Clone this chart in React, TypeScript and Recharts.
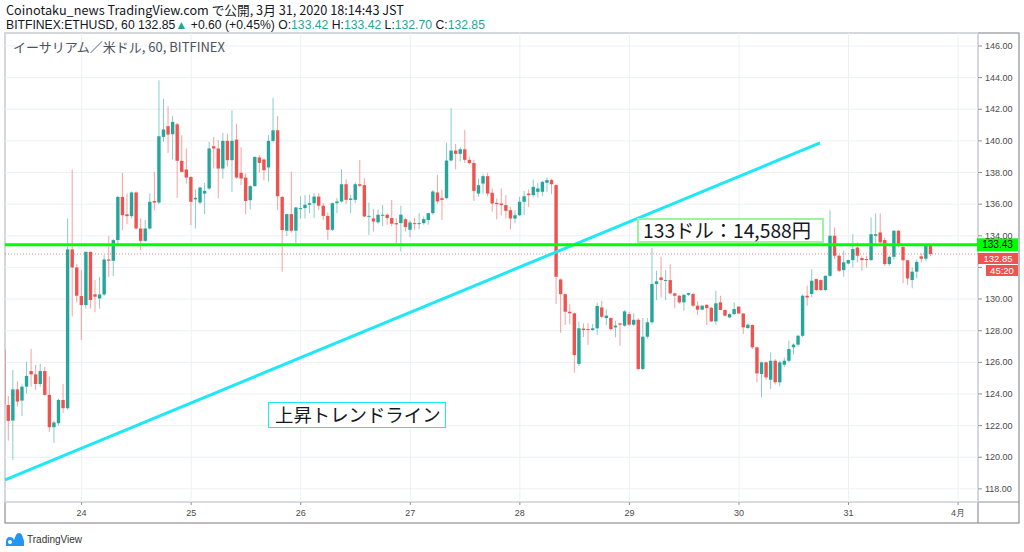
import React from 'react';
import { ComposedChart, Bar, XAxis, YAxis, CartesianGrid, ReferenceLine } from 'recharts';

// Hours are counted from 2020-03-24 00:00 JST; the first hourly candle is Mar 23 07:00.
const FIRST_HOUR = -17;

// Each candle: [open, high, low, close]
const mar23 = [
  [126.8, 127.4, 123.2, 123.3], [123.3, 123.87, 121.05, 122.3], [122.32, 125.52, 119.83, 124.29],
  [124.29, 124.8, 123.2, 123.52], [123.58, 124.6, 122.6, 124.46], [124.46, 126.04, 124.04, 125.14],
  [125.45, 126.84, 124.46, 125.24], [125.24, 125.83, 124.25, 124.63], [124.63, 125.9, 124.46, 125.45],
  [125.45, 125.7, 123.9, 123.94], [123.94, 125.1, 121.6, 121.9], [121.9, 122.3, 120.9, 122.2],
  [122.15, 123.7, 122.0, 123.62], [123.62, 124.63, 122.8, 123.1], [123.1, 135.1, 123.0, 133.14],
  [133.14, 138.19, 128.9, 132.0], [132.0, 132.21, 129.8, 130.21],
];
const mar24 = [
  [130.19, 131.83, 127.41, 129.62], [129.62, 133.0, 129.4, 132.99], [132.99, 133.0, 129.4, 129.94],
  [130.3, 131.2, 129.16, 130.15], [130.04, 131.4, 129.4, 130.29], [130.29, 132.78, 130.2, 132.5],
  [132.5, 133.98, 131.4, 132.42], [132.42, 133.8, 131.45, 133.73], [133.73, 136.5, 133.3, 136.46],
  [136.46, 137.98, 134.36, 135.3], [135.36, 136.67, 134.74, 135.24], [135.24, 136.8, 135.1, 136.74],
  [136.74, 136.8, 134.4, 134.46], [134.46, 135.1, 133.1, 133.68], [133.68, 135.0, 133.6, 134.46],
  [134.46, 136.67, 134.4, 136.15], [136.2, 138.04, 135.6, 136.1], [136.1, 143.83, 136.0, 140.29],
  [140.25, 142.67, 139.94, 140.72], [140.93, 142.19, 139.24, 140.4], [140.42, 141.58, 138.82, 141.2],
  [141.05, 141.14, 136.4, 138.74], [138.74, 140.36, 138.0, 138.04], [138.19, 139.52, 137.3, 137.68],
];
const mar25 = [
  [137.72, 137.75, 134.67, 136.15], [136.3, 136.95, 134.46, 136.4], [136.1, 137.1, 136.0, 137.05],
  [136.67, 137.35, 135.37, 136.84], [136.99, 139.94, 136.9, 139.52], [139.66, 140.25, 138.25, 139.52],
  [139.52, 140.04, 136.36, 138.25], [138.25, 140.5, 137.62, 140.0], [140.0, 140.46, 138.36, 138.78],
  [138.78, 141.94, 136.78, 140.0], [140.08, 141.09, 137.6, 137.68], [137.98, 139.6, 137.2, 137.62],
  [137.68, 137.94, 135.37, 136.2], [136.25, 137.2, 135.66, 137.14], [137.14, 139.0, 137.1, 138.99],
  [138.95, 139.1, 137.98, 138.61], [138.82, 138.9, 137.5, 138.15], [138.32, 140.36, 137.41, 140.0],
  [140.0, 142.72, 139.9, 140.67], [140.67, 141.56, 135.62, 136.5], [136.46, 136.5, 131.73, 134.36],
  [134.32, 135.4, 133.98, 135.37], [135.37, 138.04, 134.2, 134.32], [134.32, 135.83, 133.52, 135.79],
];
const mar26 = [
  [135.7, 136.5, 135.1, 135.75], [135.75, 136.57, 135.1, 135.96], [135.96, 136.6, 135.43, 136.06],
  [136.06, 136.7, 135.12, 136.48], [136.48, 136.7, 135.64, 135.9], [135.9, 136.06, 135.0, 135.26],
  [135.26, 135.47, 133.75, 134.38], [134.38, 136.1, 134.3, 136.06], [136.06, 136.38, 135.43, 136.17],
  [136.17, 138.2, 136.1, 137.26], [137.26, 137.58, 136.02, 136.27], [136.27, 136.6, 135.43, 136.36],
  [136.27, 137.37, 136.06, 137.26], [137.26, 138.8, 137.07, 137.16], [137.2, 137.64, 135.18, 135.22],
  [135.22, 136.1, 134.06, 135.26], [135.1, 135.7, 134.27, 134.9], [134.85, 135.64, 134.76, 135.33],
  [135.28, 135.94, 134.6, 135.33], [135.33, 135.43, 134.7, 135.12], [135.12, 136.27, 134.6, 134.76],
  [134.8, 135.12, 133.54, 134.72], [134.8, 135.9, 133.0, 135.33], [135.05, 135.12, 134.27, 134.55],
];
const mar27 = [
  [134.38, 134.97, 133.92, 134.84], [134.8, 135.12, 134.38, 134.76], [134.76, 135.43, 134.42, 134.8],
  [134.8, 135.22, 134.7, 135.05], [135.0, 135.45, 134.7, 135.43], [135.43, 136.9, 135.33, 136.8],
  [136.74, 137.85, 136.02, 136.17], [136.38, 136.9, 135.0, 136.27], [136.38, 139.9, 136.3, 138.76],
  [138.76, 142.06, 138.7, 139.39], [139.39, 139.81, 138.2, 139.18], [139.18, 139.6, 138.7, 139.47],
  [139.47, 140.7, 138.6, 138.8], [138.8, 139.0, 138.5, 138.6], [138.6, 138.8, 136.2, 136.84],
  [136.67, 137.62, 136.46, 137.2], [137.3, 137.9, 136.67, 137.77], [137.77, 137.98, 136.5, 136.67],
  [136.72, 136.99, 135.52, 136.04], [136.08, 136.36, 135.03, 136.0], [136.04, 136.99, 135.3, 135.94],
  [135.94, 136.57, 135.1, 135.58], [135.62, 135.83, 134.4, 135.09], [135.09, 135.62, 134.78, 135.3],
];
const mar28 = [
  [135.3, 136.46, 135.24, 136.15], [136.15, 136.84, 135.3, 136.5], [136.67, 136.93, 135.83, 136.57],
  [136.57, 137.56, 136.42, 137.09], [136.78, 137.35, 136.42, 136.99], [136.78, 137.47, 136.5, 137.41],
  [137.35, 137.68, 136.78, 137.52], [137.52, 137.62, 136.63, 137.26], [137.2, 137.3, 129.68, 131.41],
  [131.24, 131.3, 127.87, 130.31], [130.31, 130.35, 128.36, 129.2], [129.2, 129.68, 128.4, 129.1],
  [129.1, 129.15, 125.35, 126.46], [125.9, 128.57, 125.77, 128.15], [128.13, 128.46, 127.6, 128.04],
  [128.1, 128.46, 127.1, 128.04], [128.04, 128.42, 128.0, 128.15], [128.15, 129.77, 127.73, 129.56],
  [129.47, 129.9, 128.78, 128.88], [128.8, 129.35, 128.36, 128.95], [128.8, 128.85, 128.0, 128.1],
  [128.21, 128.63, 127.58, 128.32], [128.46, 128.5, 127.05, 128.38], [128.32, 129.3, 128.25, 129.22],
];
const mar29 = [
  [129.05, 129.2, 128.3, 128.38], [128.38, 129.1, 128.3, 128.69], [128.69, 128.8, 125.5, 125.58],
  [125.58, 128.8, 125.5, 127.62], [127.62, 128.8, 127.5, 128.53], [128.53, 133.22, 128.4, 130.95],
  [130.95, 131.79, 129.94, 131.12], [131.37, 132.67, 130.1, 131.2], [131.16, 131.83, 129.94, 131.2],
  [131.2, 132.21, 130.3, 130.36], [130.36, 130.4, 129.43, 130.21], [130.21, 130.25, 129.7, 129.79],
  [129.79, 130.3, 129.26, 130.27], [130.27, 130.4, 130.2, 130.38], [130.32, 130.4, 129.5, 129.58],
  [129.58, 129.85, 128.99, 129.33], [129.33, 129.62, 129.3, 129.58], [129.64, 129.65, 128.36, 129.43],
  [129.45, 129.5, 128.55, 128.59], [128.59, 130.53, 128.38, 129.73], [129.79, 130.21, 129.3, 129.31],
  [129.31, 129.35, 128.9, 128.95], [128.84, 129.1, 128.8, 129.05], [129.05, 129.79, 129.0, 129.37],
];
const mar30 = [
  [129.52, 129.55, 129.05, 129.09], [129.09, 129.1, 127.79, 128.21], [128.17, 128.45, 128.1, 128.38],
  [128.36, 128.4, 126.84, 126.95], [126.95, 127.0, 124.74, 125.3], [125.26, 126.05, 123.79, 126.0],
  [126.0, 126.05, 124.9, 125.05], [124.9, 126.63, 124.32, 126.1], [126.1, 126.2, 124.6, 124.74],
  [124.74, 126.1, 124.5, 126.0], [125.85, 126.3, 125.7, 126.1], [126.1, 127.37, 126.0, 126.84],
  [126.95, 127.2, 126.5, 127.12], [127.12, 127.75, 127.0, 127.68], [127.68, 130.3, 127.6, 130.21],
  [130.21, 130.84, 129.58, 130.1], [130.32, 131.89, 130.1, 131.16], [131.26, 131.3, 130.5, 130.57],
  [131.2, 131.25, 130.5, 130.57], [130.57, 131.5, 130.5, 131.47], [131.47, 135.62, 131.4, 134.0],
  [134.0, 134.53, 132.53, 132.74], [132.74, 132.8, 131.7, 131.79], [131.83, 133.05, 131.41, 132.32],
];
const mar31 = [
  [132.25, 132.5, 132.2, 132.46], [132.46, 134.1, 132.0, 133.16], [133.26, 133.58, 132.32, 132.74],
  [132.59, 132.74, 131.79, 132.46], [132.53, 132.74, 132.0, 132.46], [132.46, 135.16, 132.42, 134.1],
  [134.0, 135.41, 133.47, 134.1], [134.21, 135.41, 133.47, 133.58], [133.73, 133.89, 132.1, 132.21],
  [132.21, 132.75, 132.1, 132.67], [132.67, 134.35, 132.5, 134.32], [134.32, 134.36, 133.26, 133.37],
  [133.3, 133.4, 131.0, 132.45], [132.45, 132.47, 130.9, 131.3], [131.2, 132.0, 130.68, 131.73],
  [131.73, 132.5, 131.31, 132.35], [132.7, 132.9, 132.3, 132.55], [132.55, 133.5, 132.4, 133.42],
  [133.42, 133.42, 132.7, 132.85],
];

const dayTickHours = [0, 24, 48, 72, 96, 120, 144, 168, 192];
const dayTickLabels = ['24', '25', '26', '27', '28', '29', '30', '31', '4月'];
const priceTicks = [118, 120, 122, 124, 126, 128, 130, 132, 134, 136, 138, 140, 142, 144, 146];
// price tick hidden behind the current-price tags in the reference
const coveredPriceTicks = [132];
const hourDomain = [-16.78, 196.36];
const priceDomain = [117.17, 146.82];

const trendStart = { h: -16.78, p: 118.57 };
const trendEnd = { h: 161.75, p: 139.87 };
const resistancePrice = 133.43;
const lastPrice = 132.85;
const countdownText = '45:20';

const UP = '#26a69a';
const DOWN = '#ef5350';
const FONT = '"Noto Sans CJK JP", "Noto Sans", sans-serif';
const AXIS_FONT = '"Liberation Sans", Arial, sans-serif';

const candles = [...mar23, ...mar24, ...mar25, ...mar26, ...mar27, ...mar28, ...mar29, ...mar30, ...mar31].map(
  (q, i) => ({ t: FIRST_HOUR + i, o: q[0], hi: q[1], lo: q[2], c: q[3], range: [q[2], q[1]] })
);

const Candle = (props: any) => {
  const { x, y, width, height } = props;
  const p = props.payload;
  if (p == null || x == null || y == null) return null;
  const top = Math.min(y, y + height);
  const bot = Math.max(y, y + height);
  const span = p.hi - p.lo;
  const k = span > 0 ? (bot - top) / span : 0;
  const yOf = (v: number) => top + (p.hi - v) * k;
  const col = p.c >= p.o ? UP : DOWN;
  const cx = x + width / 2;
  const bTop = yOf(Math.max(p.o, p.c));
  const bBot = yOf(Math.min(p.o, p.c));
  const bw = 3.4;
  return (
    <g>
      <line x1={cx} x2={cx} y1={top} y2={bot} stroke={col} strokeOpacity={0.55} strokeWidth={1} />
      <rect x={cx - bw / 2} y={bTop} width={bw} height={Math.max(1, bBot - bTop)} fill={col} />
    </g>
  );
};

const PriceTick = (props: any) => {
  const { x, y, payload } = props;
  if (coveredPriceTicks.includes(payload.value)) return null;
  return (
    <text x={x} y={y} dy="0.35em" textAnchor="start" fontSize={9} fontFamily={AXIS_FONT} fill="#4a4a4a">
      {Number(payload.value).toFixed(2)}
    </text>
  );
};

const PriceTag = (props: any) => {
  const vb = props.viewBox || {};
  const right = (vb.x || 0) + (vb.width || 0);
  const cy = (vb.y || 0) + (props.dy || 0);
  const h = props.h || 13;
  const x0 = right + (props.dx || 0);
  const w = 1018 - x0;
  const fs = props.fs || 10;
  return (
    <g>
      <rect x={x0} y={cy - h / 2} width={w} height={h} fill={props.bg} />
      <text x={x0 + w / 2} y={cy} dy="0.35em" textAnchor="middle" fontSize={fs} fontFamily={AXIS_FONT} fill={props.fg}>
        {props.text}
      </text>
    </g>
  );
};

const Logo = () => (
  <svg width={18} height={13} viewBox="0 0 18 13">
    <path d="M0 13 L0 9 Q0 4 4 4 Q7 4 8 7 L10 2 Q11 0 13 0 Q15 0 16 2 L18 8 L18 13 Z" fill="#2196f3" />
    <circle cx={4} cy={9} r={2} fill="#fff" />
  </svg>
);

export default function App() {
  const teal = { color: UP };
  return (
    <div style={{ position: 'absolute', left: 0, top: 0, width: 1024, height: 552, background: '#fff', overflow: 'hidden', fontFamily: FONT }}>
      <div style={{ position: 'absolute', left: 6, top: 2.5, fontSize: 12.7, lineHeight: '13px', color: '#131722', whiteSpace: 'nowrap' }}>
        Coinotaku_news TradingView.com で公開, 3月 31, 2020 18:14:43 JST
      </div>
      <div style={{ position: 'absolute', left: 6, top: 18.5, fontSize: 12.2, lineHeight: '13px', color: '#131722', whiteSpace: 'nowrap', fontFamily: AXIS_FONT }}>
        BITFINEX:ETHUSD, 60 132.85<span style={teal}>▲</span> +0.60 (+0.45%) O:<span style={teal}>133.42</span> H:
        <span style={teal}>133.42</span> L:<span style={teal}>132.70</span> C:<span style={teal}>132.85</span>
      </div>

      <svg width={1024} height={552} style={{ position: 'absolute', left: 0, top: 0 }}>
        <rect x={5} y={33} width={1014} height={490} fill="none" stroke="#8f929b" strokeWidth={1.2} />
        <line x1={978} x2={978} y1={33} y2={523} stroke="#8f929b" strokeWidth={1.2} />
        <line x1={5} x2={1019} y1={502} y2={502} stroke="#8f929b" strokeWidth={1.2} />
      </svg>

      <div style={{ position: 'absolute', left: 0, top: 0 }}>
        <ComposedChart width={1024} height={552} data={candles} margin={{ top: 33, right: 5, bottom: 29, left: 5 }}>
          <CartesianGrid stroke="#edf0f5" strokeWidth={1} />
          <XAxis
            dataKey="t"
            type="number"
            domain={hourDomain}
            allowDataOverflow
            ticks={dayTickHours}
            tickFormatter={(v: number) => dayTickLabels[dayTickHours.indexOf(v)] ?? ''}
            axisLine={false}
            tickLine={{ stroke: '#8f929b' }}
            tickSize={3}
            tickMargin={5}
            height={21}
            tick={{ fontSize: 9, fill: '#4a4a4a', fontFamily: AXIS_FONT }}
          />
          <YAxis
            orientation="right"
            type="number"
            domain={priceDomain}
            allowDataOverflow
            ticks={priceTicks}
            axisLine={false}
            tickLine={{ stroke: '#8f929b' }}
            tickSize={4}
            tickMargin={3}
            width={41}
            tick={PriceTick}
          />
          <Bar dataKey="range" shape={Candle} barSize={4} isAnimationActive={false} />
          <ReferenceLine
            y={lastPrice}
            stroke={DOWN}
            strokeOpacity={0.7}
            strokeDasharray="1 2"
            strokeWidth={1}
            label={(p: any) => (
              <g>
                <PriceTag viewBox={p.viewBox} text={lastPrice.toFixed(2)} bg={DOWN} fg="#fff" dy={4.5} h={11} fs={9.5} />
                <PriceTag viewBox={p.viewBox} text={countdownText} bg={DOWN} fg="#fff" dy={16.5} h={11} dx={8} fs={9.5} />
              </g>
            )}
          />
          <ReferenceLine
            segment={[{ x: trendStart.h, y: trendStart.p }, { x: trendEnd.h, y: trendEnd.p }]}
            stroke="#1de9f6"
            strokeWidth={3}
            ifOverflow="visible"
          />
          <ReferenceLine
            y={resistancePrice}
            stroke="#00ff00"
            strokeWidth={3}
            label={(p: any) => <PriceTag viewBox={p.viewBox} text={resistancePrice.toFixed(2)} bg="#00ff00" fg="#000" dx={-1} h={13} />}
          />
        </ComposedChart>
      </div>

      <div style={{ position: 'absolute', left: 13, top: 40, fontSize: 13, lineHeight: '14px', color: '#4c525e', whiteSpace: 'nowrap' }}>
        イーサリアム／米ドル, 60, BITFINEX
      </div>

      <div style={{ position: 'absolute', left: 637, top: 218, width: 187, height: 25, boxSizing: 'border-box', border: '2px solid #9ff09f', background: '#fff', fontSize: 19.3, lineHeight: '21px', paddingLeft: 4, color: '#131722', whiteSpace: 'nowrap' }}>
        133ドル：14,588円
      </div>
      <div style={{ position: 'absolute', left: 268, top: 402, width: 178, height: 26, boxSizing: 'border-box', border: '1.5px solid #1de9f6', background: '#fff', fontSize: 18.4, lineHeight: '22px', paddingLeft: 6, color: '#131722', whiteSpace: 'nowrap' }}>
        上昇トレンドライン
      </div>

      <div style={{ position: 'absolute', left: 6, top: 533, display: 'flex', alignItems: 'center', gap: 3 }}>
        <Logo />
        <span style={{ fontSize: 10, color: '#333', fontFamily: AXIS_FONT }}>TradingView</span>
      </div>
    </div>
  );
}
